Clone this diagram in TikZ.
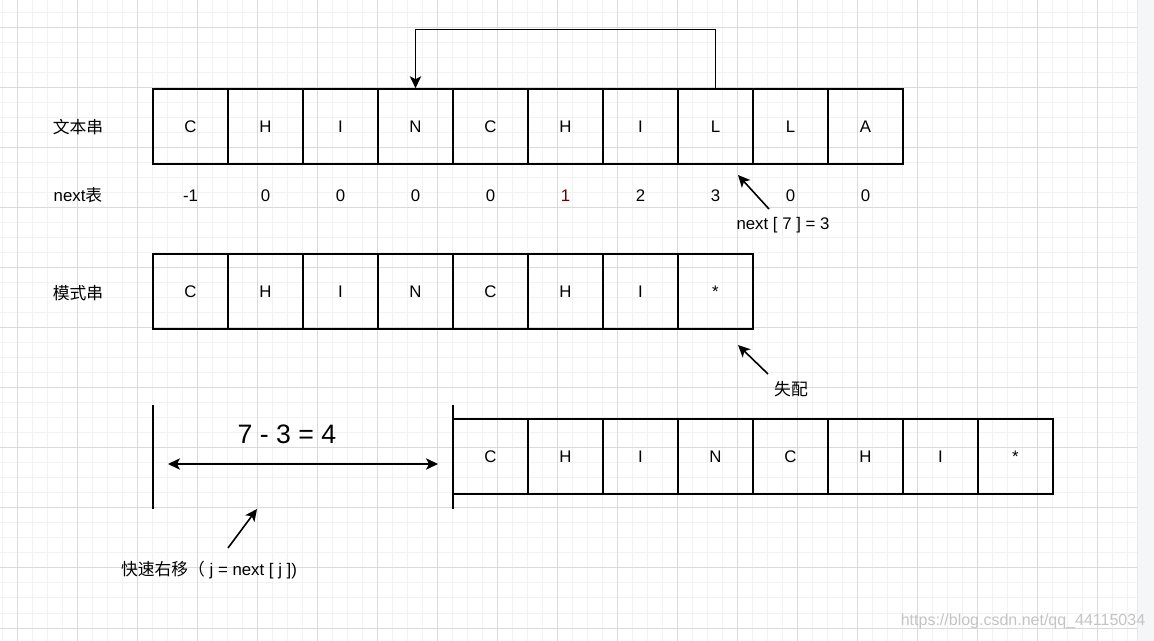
\documentclass[tikz,border=0pt]{standalone}
\usepackage{fontspec}
\setmainfont{Liberation Sans}
\newfontfamily\cjk{Noto Sans CJK SC}
\usetikzlibrary{arrows.meta}
\definecolor{gmajor}{HTML}{DADADA}
\definecolor{gminor}{HTML}{F2F2F2}
\definecolor{sidebg}{HTML}{F5F6F8}
\definecolor{numred}{HTML}{660000}
\definecolor{wmark}{HTML}{C4C4C4}
\begin{document}
\begin{tikzpicture}[x=0.75pt,y=-0.75pt,
  cell/.style={draw, line width=1.15pt, minimum width=56.25pt, minimum height=56.25pt, inner sep=0pt, font=\fontsize{12.6pt}{14pt}\selectfont},
  num/.style={inner sep=0pt, font=\fontsize{12.6pt}{14pt}\selectfont},
  lbl/.style={inner sep=0pt, font=\fontsize{12.6pt}{14pt}\selectfont},
  arr/.style={line width=1.2pt, -{Stealth[length=9pt,width=8.5pt,inset=2.3pt]}},
  darr/.style={line width=1.2pt, {Stealth[length=9pt,width=8.5pt,inset=2.3pt]}-{Stealth[length=9pt,width=8.5pt,inset=2.3pt]}},
  bar/.style={line width=1.2pt}]
\fill[white] (0,0) rectangle (1154,641);
\useasboundingbox (0,0) rectangle (1154,641);
\fill[sidebg] (1138,0) rectangle (1154,641);
% grid
\foreach \x in {2,17,...,1127} \draw[gminor, line width=0.75pt] (\x,0) -- (\x,641);
\foreach \y in {13,28,...,628} \draw[gminor, line width=0.75pt] (0,\y) -- (1137,\y);
\foreach \x in {17,77,...,1097} \draw[gmajor, line width=0.75pt] (\x,0) -- (\x,641);
\foreach \y in {28,88,...,628} \draw[gmajor, line width=0.75pt] (0,\y) -- (1137,\y);
\draw[gmajor!60, line width=0.75pt] (1137,0) -- (1137,641);
% watermark
\node[inner sep=0pt, text=wmark, font=\fontsize{12pt}{14pt}\selectfont] (wm) at (1023,621) {https://blog.csdn.net/qq\_44115034};
% row labels
\node[lbl] (lt) at (78,127) {\cjk 文本串};
\node[lbl] (ln) at (78,195) {next{\cjk 表}};
\node[lbl] (lp) at (78,293) {\cjk 模式串};
% text row
\foreach \c [count=\i from 0] in {C,H,I,N,C,H,I,L,L,A}
  \node[cell] (t\i) at ({190.5+75*\i},126.5) {\c};
% next values
\foreach \v [count=\i from 0] in {-1,0,0,0,0,{\textcolor{numred}{1}},2,3,0,0}
  \node[num] (n\i) at ({190.5+75*\i},196) {\v};
% pattern row
\foreach \c [count=\i from 0] in {C,H,I,N,C,H,I,*}
  \node[cell] (p\i) at ({190.5+75*\i},291.5) {\c};
% shifted row
\foreach \c [count=\i from 0] in {C,H,I,N,C,H,I,*}
  \node[cell] (s\i) at ({490.5+75*\i},456.5) {\c};
% top jump arrow
\coordinate (top) at (565,29.5);
\draw[arr] (t7.north) |- (top) -| (t3.north);
% next[7]=3
\node[lbl] (nl) at (783,225) {next [ 7 ] = 3};
\coordinate (na) at (769,209);
\coordinate (nb) at (738,175);
\draw[arr] (na) -- (nb);
% mismatch
\node[lbl] (ml) at (791,389) {\cjk 失配};
\coordinate (ma) at (768,374);
\coordinate (mb) at (738,345);
\draw[arr] (ma) -- (mb);
% shift bars
\coordinate (b1t) at (153,405);
\coordinate (b1b) at (153,509);
\coordinate (b2t) at (453,405);
\coordinate (b2b) at (453,509);
\draw[bar] (b1t) -- (b1b);
\draw[bar] (b2t) -- (b2b);
\coordinate (dl) at (168,464);
\coordinate (dr) at (438,464);
\draw[darr] (dl) -- (dr);
\node[inner sep=0pt, font=\fontsize{20pt}{24pt}\selectfont] (eq) at (287,434) {7 - 3 = 4};
% fast shift label
\node[lbl] (fl) at (209,570) {{\cjk 快速右移（}\ j = next [ j ])};
\coordinate (fa) at (228,548);
\coordinate (fb) at (257,509);
\draw[arr] (fa) -- (fb);
\end{tikzpicture}
\end{document}
